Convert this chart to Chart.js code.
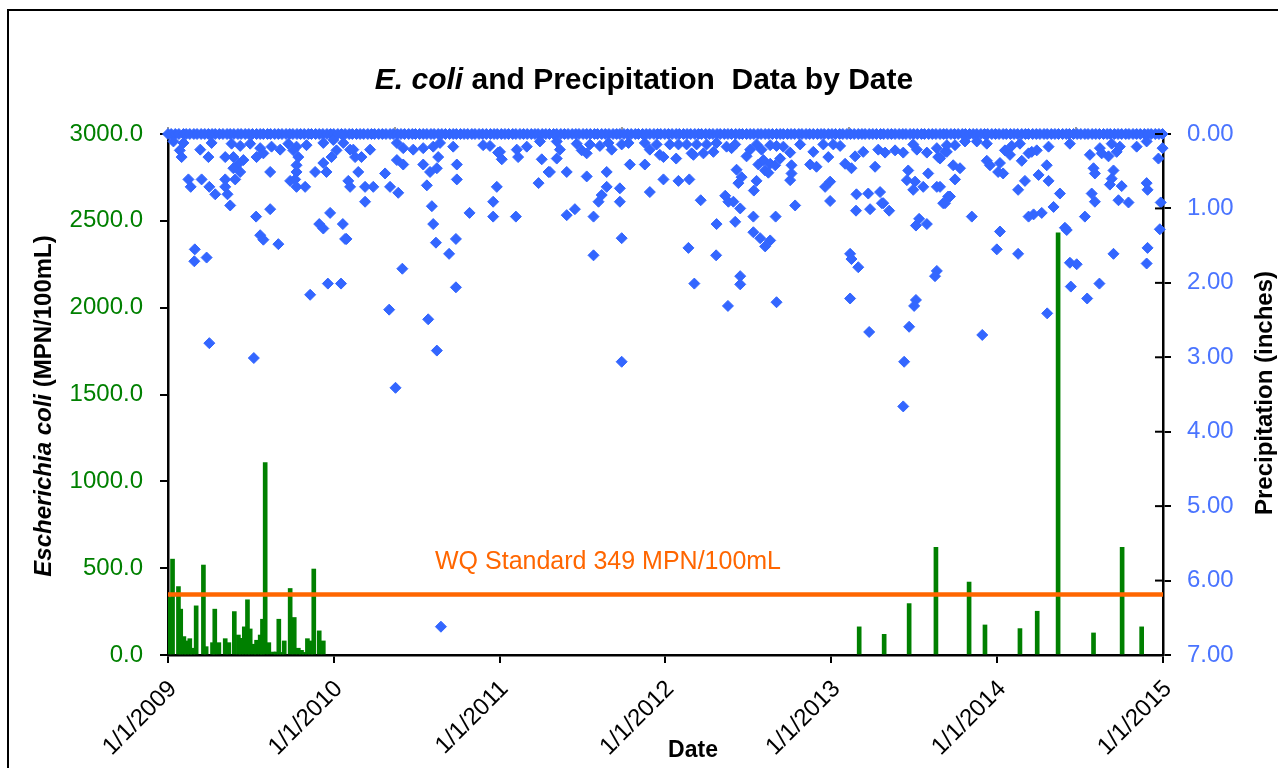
<!DOCTYPE html>
<html>
<head>
<meta charset="utf-8">
<script src="https://cdn.jsdelivr.net/npm/chart.js@4.4.0/dist/chart.umd.min.js"></script>
<style>
  html, body { margin: 0; padding: 0; background: #fff; }
</style>
</head>
<body>
<canvas id="c" width="1278" height="768"></canvas>
<script>
// x axis is days since 1/1/2009
var yearTicks = [0, 365, 730, 1095, 1461, 1826, 2191];
var yearLabels = ['1/1/2009', '1/1/2010', '1/1/2011', '1/1/2012', '1/1/2013', '1/1/2014', '1/1/2015'];
var topTicks = [0, 500, 1000, 1500, 2000];

// E. coli samples (MPN/100mL)
var ecoliDay = [2, 10, 23, 28, 35, 41, 48, 54, 62, 78,
  84, 98, 103, 112, 126, 134, 146, 155, 161, 168,
  175, 181, 189, 195, 203, 208, 214, 222, 232, 238,
  244, 250, 256, 269, 278, 287, 294, 300, 307, 314,
  321, 333, 342,
  1522, 1577, 1632, 1691, 1764, 1799, 1876, 1914, 1960, 2038, 2101, 2144];
var ecoliValue = [331, 552, 394, 264, 106, 81, 94, 39, 283, 518,
  48, 71, 264, 71, 94, 71, 250, 115, 96, 162,
  318, 150, 62, 85, 115, 206, 1108, 71, 17, 17,
  206, 15, 81, 383, 216, 39, 27, 15, 94, 81,
  495, 139, 81,
  162, 119, 296, 620, 420, 173, 152, 252, 2431, 127, 620, 162];

var wqStandard = 349;

// days with 0.00 in precipitation
var dryDays = [0, 7, 16, 24, 34, 40, 48, 57, 64, 73, 81, 89, 97, 104, 113, 121, 130, 137, 145, 154,
  161, 170, 178, 186, 195, 203, 210, 219, 226, 235, 243, 251, 260, 268, 275, 284, 292, 300, 309, 316,
  325, 333, 341, 350, 358, 365, 374, 382, 390, 399, 406, 415, 423, 431, 440, 448, 455, 464, 472, 480,
  489, 496, 505, 513, 521, 530, 538, 545, 554, 562, 570, 579, 586, 595, 603, 611, 620, 628, 635, 644,
  652, 660, 669, 676, 685, 693, 701, 710, 718, 725, 734, 742, 750, 759, 766, 775, 783, 791, 800, 808,
  815, 824, 832, 840, 849, 856, 865, 873, 881, 890, 898, 905, 914, 922, 930, 939, 946, 955, 963, 971,
  980, 988, 995, 1004, 1012, 1020, 1029, 1036, 1045, 1053, 1061, 1070, 1078, 1085, 1094, 1102, 1110, 1119, 1126, 1135,
  1143, 1151, 1160, 1168, 1175, 1184, 1192, 1200, 1209, 1216, 1225, 1233, 1241, 1250, 1258, 1265, 1274, 1282, 1290, 1299,
  1306, 1315, 1323, 1331, 1340, 1348, 1355, 1364, 1372, 1380, 1389, 1396, 1405, 1413, 1421, 1430, 1438, 1445, 1454, 1462,
  1470, 1479, 1486, 1495, 1503, 1511, 1520, 1528, 1535, 1544, 1552, 1560, 1569, 1576, 1585, 1593, 1601, 1610, 1618, 1625,
  1634, 1642, 1650, 1659, 1666, 1675, 1683, 1691, 1700, 1708, 1715, 1724, 1732, 1740, 1749, 1756, 1765, 1773, 1781, 1790,
  1798, 1805, 1814, 1822, 1830, 1839, 1846, 1855, 1863, 1871, 1880, 1888, 1895, 1904, 1912, 1920, 1929, 1936, 1945, 1953,
  1961, 1970, 1978, 1985, 1994, 2002, 2010, 2019, 2026, 2035, 2043, 2051, 2060, 2068, 2075, 2084, 2092, 2100, 2109, 2116,
  2125, 2133, 2141, 2150, 2158, 2165, 2174, 2182, 2190];

// wet days (inches)
var precipDay = [
  12, 34, 96, 140, 159, 181, 203, 228, 247, 265,
  283, 305, 342, 364, 386, 408, 445, 504, 518, 540,
  562, 584, 599, 628, 694, 709, 731, 768, 790, 819,
  26, 30, 71, 89, 126, 144, 166, 155, 144, 159,
  195, 210, 225, 276, 287, 283, 283, 269, 280, 283,
  302, 324, 342, 349, 360, 371, 401, 412, 426, 419,
  397, 401, 434, 452, 434, 478, 489, 507, 504, 518,
  562, 577, 592, 595, 570, 581, 584, 590, 636, 636,
  664, 716, 724, 716, 766, 771, 816, 823, 838, 735,
  727,
  45, 50, 74, 91, 104, 126, 126, 131, 137, 148,
  194, 203, 210, 225, 243, 59, 58, 85, 333, 342,
  357, 385, 390, 393, 313, 352, 381, 487, 516, 573,
  619, 634, 634, 91, 189, 592, 501, 601,
  856, 863, 900, 911, 922, 929, 951, 970, 977, 999,
  1014, 1050, 1061, 1076, 1083, 1105, 1124, 1142, 1153, 1164,
  1179, 1186, 1201, 1208, 1230, 1241, 1249, 1274, 1282, 1296,
  1307, 1326, 1340, 1355, 1370, 1392, 1421, 1443, 1465, 1480,
  1513, 1531, 1564, 1579, 1601, 1619, 1641, 1649, 1671, 1693,
  1715,
  856, 841, 878, 922, 966, 966, 955, 948, 995, 995,
  1017, 1050, 1061, 1091, 1091, 1119, 1124, 1148, 1157, 1173,
  1227, 1234, 1245, 1252, 1263, 1256, 1260, 1290, 1296, 1300,
  1311, 1315, 1322, 1326, 1337, 1348, 1370, 1373, 1373, 1381,
  1414, 1428, 1454, 1458, 1447, 1458, 1491, 1505, 1557, 1568,
  1575, 1542, 1516, 1630, 1627, 1645, 1663, 1641, 1674, 1693,
  1707, 1718, 1696,
  878, 896, 937, 999, 937, 1208, 1249, 1289, 1289, 1304,
  1315, 1326, 1338, 1515, 1546, 1572, 1588, 1647, 1654, 1671,
  1146, 1207, 1159, 1260, 1260, 1233, 1340, 1502, 1505, 1520,
  1502, 1693, 1689, 1647, 1643, 999, 1544, 1632, 1621, 1619,
  1711, 1715, 1733, 1755, 1781, 1803, 1843, 1858, 1854, 1876,
  1895, 1902, 1913, 1939, 1986, 2030, 2052, 2056, 2078, 2089,
  2096, 2133, 2155, 2190, 2181,
  1700, 1729, 1744, 1733, 1700, 1711, 1722, 1803, 1810, 1832,
  1828, 1839, 1872, 1887, 1880, 1917, 1935, 1939, 1964, 1950,
  1924, 1906, 1895, 1770, 1832, 1825, 1872, 1975, 1979, 2019,
  2034, 2041, 2038, 2041, 2071, 2082, 2078, 2074, 2100, 2093,
  2115, 2082, 2155, 2157, 2186, 2184, 2157, 2155, 1986, 2001,
  1988, 2051, 2024, 1936, 1793];
var precipInches = [
  0.10, 0.12, 0.12, 0.13, 0.16, 0.13, 0.19, 0.17, 0.21, 0.13,
  0.17, 0.15, 0.12, 0.08, 0.12, 0.21, 0.21, 0.12, 0.19, 0.21,
  0.19, 0.17, 0.12, 0.17, 0.15, 0.16, 0.24, 0.21, 0.17, 0.10,
  0.22, 0.31, 0.21, 0.31, 0.31, 0.31, 0.35, 0.40, 0.46, 0.51,
  0.31, 0.26, 0.51, 0.22, 0.31, 0.42, 0.51, 0.63, 0.61, 0.71,
  0.71, 0.51, 0.39, 0.51, 0.31, 0.22, 0.21, 0.31, 0.31, 0.51,
  0.63, 0.71, 0.71, 0.71, 0.91, 0.53, 0.71, 0.79, 0.35, 0.41,
  0.41, 0.51, 0.46, 0.31, 0.69, 0.97, 1.21, 1.46, 0.41, 0.61,
  1.06, 0.91, 0.71, 1.11, 1.11, 0.31, 0.66, 0.34, 0.51, 0.34,
  0.25,
  0.61, 0.71, 0.61, 0.71, 0.81, 0.61, 0.71, 0.81, 0.96, 0.61,
  1.11, 1.36, 1.42, 1.01, 1.48, 1.55, 1.71, 1.66, 1.21, 1.27,
  1.06, 1.21, 1.41, 1.41, 2.16, 2.01, 2.01, 2.36, 1.81, 2.49,
  1.61, 1.41, 2.06, 2.81, 3.01, 2.91, 3.41, 6.62,
  0.10, 0.21, 0.13, 0.22, 0.26, 0.14, 0.16, 0.12, 0.21, 0.14,
  0.12, 0.12, 0.21, 0.14, 0.28, 0.14, 0.14, 0.14, 0.26, 0.14,
  0.26, 0.14, 0.24, 0.12, 0.17, 0.19, 0.14, 0.30, 0.21, 0.14,
  0.21, 0.15, 0.16, 0.17, 0.25, 0.14, 0.24, 0.14, 0.14, 0.16,
  0.30, 0.24, 0.21, 0.25, 0.22, 0.25, 0.14, 0.21, 0.25, 0.19,
  0.24,
  0.33, 0.51, 0.51, 0.57, 0.51, 0.71, 0.82, 0.91, 0.73, 0.91,
  0.41, 0.41, 0.78, 0.31, 0.61, 0.33, 0.63, 0.61, 0.28, 0.89,
  0.83, 0.91, 0.91, 0.48, 0.58, 0.66, 1.00, 0.76, 0.63, 0.41,
  0.35, 0.49, 0.52, 0.40, 0.42, 0.33, 0.62, 0.53, 0.42, 0.96,
  0.41, 0.44, 0.31, 0.64, 0.71, 0.90, 0.40, 0.46, 0.44, 0.78,
  0.93, 0.80, 0.81, 0.49, 0.62, 0.64, 0.71, 0.75, 0.53, 0.71,
  0.93, 0.84, 0.31,
  1.09, 1.01, 1.11, 1.40, 1.63, 1.21, 1.18, 1.11, 1.32, 1.40,
  1.51, 1.43, 1.11, 1.03, 1.01, 0.93, 1.03, 1.23, 1.14, 1.21,
  1.53, 1.63, 2.01, 1.91, 2.02, 2.31, 2.26, 1.61, 1.68, 1.79,
  2.21, 1.84, 1.91, 2.23, 2.31, 3.06, 2.66, 2.59, 3.06, 3.66,
  0.24, 0.15, 0.15, 0.10, 0.10, 0.13, 0.22, 0.16, 0.28, 0.13,
  0.26, 0.24, 0.22, 0.17, 0.13, 0.28, 0.19, 0.26, 0.13, 0.24,
  0.17, 0.17, 0.10, 0.19, 0.33,
  0.33, 0.42, 0.46, 0.61, 0.71, 0.93, 0.84, 0.36, 0.42, 0.39,
  0.51, 0.53, 0.75, 0.63, 0.36, 0.55, 0.42, 0.63, 0.80, 0.98,
  1.06, 1.08, 1.11, 1.11, 1.31, 1.55, 1.61, 1.26, 1.29, 1.11,
  0.80, 0.91, 0.46, 0.53, 0.30, 0.49, 0.60, 0.68, 0.70, 0.89,
  0.92, 1.61, 0.66, 0.75, 0.92, 1.28, 1.53, 1.74, 1.73, 1.75,
  2.05, 2.01, 2.21, 2.41, 2.70];

var FONT = '"Liberation Sans", Arial, sans-serif';
Chart.defaults.font.family = FONT;

var barData = [];
for (var i = 0; i < ecoliDay.length; i++) barData.push({ x: ecoliDay[i], y: ecoliValue[i] });

var precipData = [];
for (var j = 0; j < dryDays.length; j++) precipData.push({ x: dryDays[j], y: 0 });
for (var k = 0; k < precipDay.length; k++) precipData.push({ x: precipDay[k], y: precipInches[k] });

function drawMixed(ctx, parts, cx, baseline) {
  var total = 0;
  parts.forEach(function(p) { ctx.font = p[1]; total += ctx.measureText(p[0]).width; });
  var x = cx - total / 2;
  ctx.textAlign = 'left';
  ctx.textBaseline = 'alphabetic';
  parts.forEach(function(p) {
    ctx.font = p[1];
    ctx.fillText(p[0], x, baseline);
    x += ctx.measureText(p[0]).width;
  });
}

var decor = {
  id: 'decor',
  beforeDraw: function(chart) {
    var ctx = chart.ctx;
    ctx.save();
    ctx.fillStyle = '#fff';
    ctx.fillRect(0, 0, chart.width, chart.height);
    ctx.strokeStyle = '#000';
    ctx.lineWidth = 2;
    ctx.strokeRect(8, 10, chart.width + 20, chart.height + 20);
    ctx.restore();
  },
  afterDraw: function(chart) {
    var ctx = chart.ctx;
    var area = chart.chartArea;
    var sx = chart.scales.x, sy = chart.scales.y, sy2 = chart.scales.y2;
    ctx.save();

    // right axis ticks cross the axis line
    ctx.strokeStyle = '#000';
    ctx.lineWidth = 2;
    sy2.ticks.forEach(function(t) {
      var py = sy2.getPixelForValue(t.value);
      ctx.beginPath();
      ctx.moveTo(area.right - 8, py);
      ctx.lineTo(area.right, py);
      ctx.stroke();
    });

    ctx.fillStyle = '#000';
    drawMixed(ctx, [['E. coli', 'italic bold 30px ' + FONT],
                    [' and Precipitation  Data by Date', 'bold 30px ' + FONT]], 644, 89);

    ctx.save();
    ctx.translate(51, 406);
    ctx.rotate(-Math.PI / 2);
    drawMixed(ctx, [['Escherichia coli', 'italic bold 24px ' + FONT],
                    [' (MPN/100mL)', 'bold 24px ' + FONT]], 0, 0);
    ctx.restore();

    ctx.save();
    ctx.translate(1272, 393);
    ctx.rotate(-Math.PI / 2);
    drawMixed(ctx, [['Precipitation (inches)', 'bold 24px ' + FONT]], 0, 0);
    ctx.restore();

    drawMixed(ctx, [['Date', 'bold 23px ' + FONT]], 693, 757);

    // standard label
    ctx.fillStyle = '#ff6600';
    ctx.font = '25px ' + FONT;
    ctx.textAlign = 'left';
    ctx.textBaseline = 'alphabetic';
    ctx.fillText('WQ Standard ' + wqStandard + ' MPN/100mL', sx.getPixelForValue(588), sy.getPixelForValue(495));

    ctx.restore();
  }
};

new Chart(document.getElementById('c'), {
  type: 'scatter',
  data: {
    datasets: [
      {
        type: 'bar',
        label: 'E. coli',
        data: barData,
        xAxisID: 'x',
        yAxisID: 'y',
        backgroundColor: '#008000',
        barThickness: 4,
        order: 3
      },
      {
        type: 'line',
        label: 'WQ Standard',
        data: [{ x: 0, y: wqStandard }, { x: 2191, y: wqStandard }],
        xAxisID: 'x',
        yAxisID: 'y',
        borderColor: '#ff6600',
        borderWidth: 4.5,
        pointRadius: 0,
        order: 2
      },
      {
        type: 'scatter',
        label: 'Precipitation',
        data: precipData,
        xAxisID: 'x',
        yAxisID: 'y2',
        pointStyle: 'rectRot',
        pointRadius: 5.5,
        pointBorderWidth: 1,
        backgroundColor: '#3366ff',
        borderColor: '#3366ff',
        clip: false,
        order: 1
      }
    ]
  },
  plugins: [decor],
  options: {
    responsive: false,
    animation: false,
    events: [],
    layout: { padding: 0 },
    plugins: {
      legend: { display: false },
      tooltip: { enabled: false },
      title: { display: false }
    },
    scales: {
      x: {
        type: 'linear',
        position: 'bottom',
        min: 0,
        max: 2191,
        offset: false,
        afterBuildTicks: function(s) { s.ticks = yearTicks.map(function(v) { return { value: v }; }); },
        afterFit: function(s) { s.height = 113; },
        ticks: {
          autoSkip: false,
          minRotation: 45,
          maxRotation: 45,
          padding: 12,
          labelOffset: 5,
          color: '#000',
          font: { size: 24 },
          callback: function(v, idx) { return yearLabels[idx]; }
        },
        grid: { drawOnChartArea: false, offset: false, tickLength: 8, color: '#000', lineWidth: 2 },
        border: { color: '#000', width: 2.5 }
      },
      xTop: {
        type: 'linear',
        position: 'top',
        min: 0,
        max: 2191,
        afterBuildTicks: function(s) { s.ticks = topTicks.map(function(v) { return { value: v }; }); },
        afterFit: function(s) { s.height = 134; },
        ticks: { display: false },
        grid: { drawOnChartArea: false, tickLength: 7, color: '#999', lineWidth: 2 },
        border: { display: false }
      },
      y: {
        type: 'linear',
        position: 'left',
        min: 0,
        max: 3000,
        afterFit: function(s) { s.width = 168; },
        ticks: {
          stepSize: 500,
          padding: 17,
          color: '#008000',
          font: { size: 24 },
          callback: function(v) { return v.toFixed(1); }
        },
        grid: { drawOnChartArea: false, tickLength: 8, color: '#000', lineWidth: 2 },
        border: { color: '#000', width: 2.5 }
      },
      y2: {
        type: 'linear',
        position: 'right',
        reverse: true,
        min: 0,
        max: 7,
        afterFit: function(s) { s.width = 115; },
        ticks: {
          stepSize: 1,
          padding: 16,
          color: '#4a74ff',
          font: { size: 24 },
          callback: function(v) { return v.toFixed(2); }
        },
        grid: { drawOnChartArea: false, tickLength: 8, color: '#000', lineWidth: 2 },
        border: { color: '#000', width: 2.5 }
      }
    }
  }
});
</script>
</body>
</html>
